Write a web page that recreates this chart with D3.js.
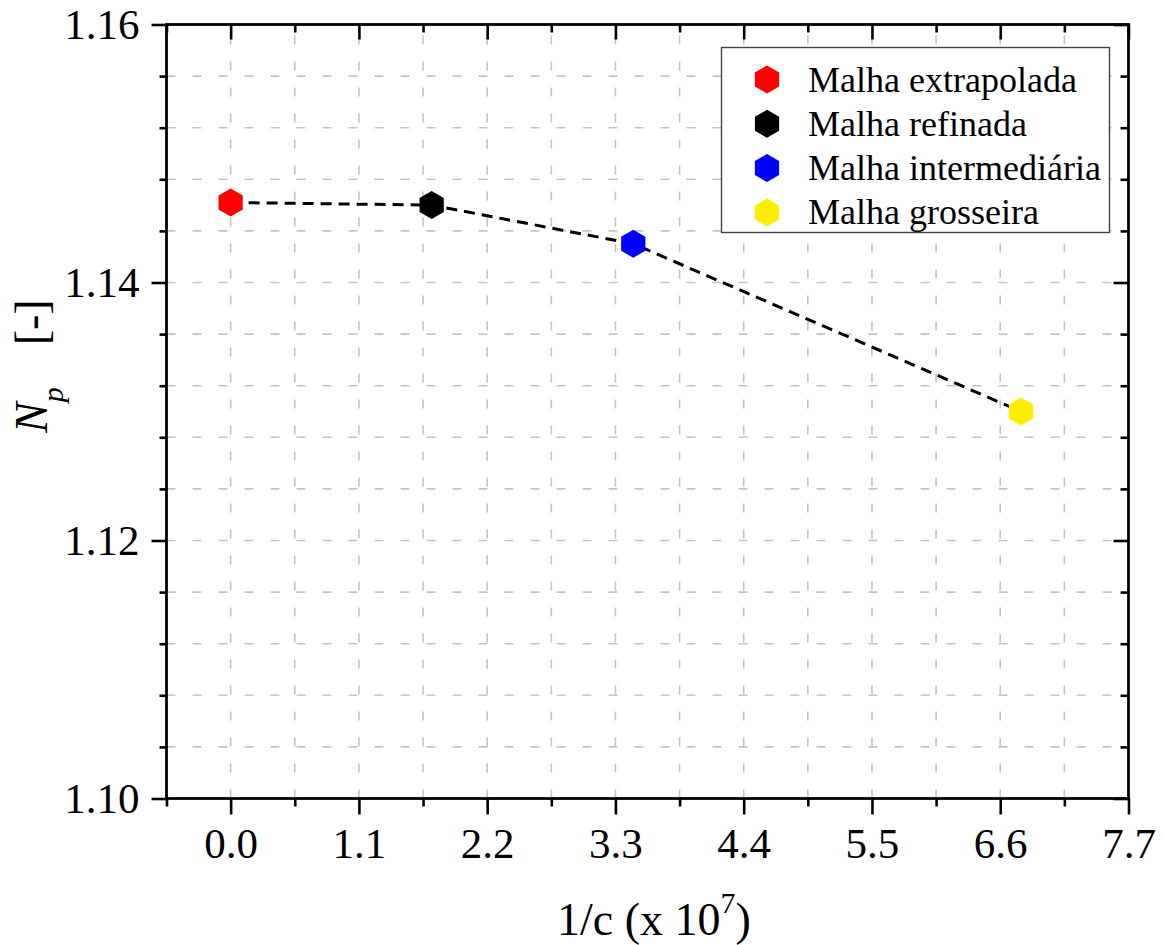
<!DOCTYPE html>
<html>
<head>
<meta charset="utf-8">
<script src="https://cdn.jsdelivr.net/npm/d3@7"></script>
<style>
  html, body { margin: 0; padding: 0; background: #fff; }
  svg { display: block; font-family: "Liberation Serif", "Times New Roman", serif; }
</style>
</head>
<body>
<svg id="chart" width="1164" height="945"></svg>
<script>
// Mesh convergence data: 1/c (x 10^7) against N_p
const meshNames = ["Malha extrapolada", "Malha refinada", "Malha intermediária", "Malha grosseira"];
const invC = [0.0, 1.724, 3.453, 6.778];
const npValues = [1.1462, 1.1460, 1.1430, 1.1300];
const meshColors = ["#ff0000", "#000000", "#0000ff", "#ffee00"];

const xTickValues = [0.0, 1.1, 2.2, 3.3, 4.4, 5.5, 6.6, 7.7];
const xMinorValues = [-0.55, 0.55, 1.65, 2.75, 3.85, 4.95, 6.05, 7.15];
const yTickValues = [1.10, 1.12, 1.14, 1.16];
const yMinorValues = [1.104, 1.108, 1.112, 1.116, 1.124, 1.128, 1.132, 1.136,
                      1.144, 1.148, 1.152, 1.156];

const svg = d3.select("#chart");
const plotLeft = 166.5, plotRight = 1128.5, plotTop = 24.5, plotBottom = 798.5;

const x = d3.scaleLinear().domain([-0.55, 7.7]).range([plotLeft, plotRight]);
const y = d3.scaleLinear().domain([1.10, 1.16]).range([plotBottom, plotTop]);

// Hexagon symbol, pointy side up
const hexagon = {
  draw(context, size) {
    const r = Math.sqrt(size / (3 * Math.sqrt(3) / 2));
    for (let i = 0; i < 6; i++) {
      const a = -Math.PI / 2 + i * Math.PI / 3;
      const px = r * Math.cos(a), py = r * Math.sin(a);
      if (i === 0) context.moveTo(px, py); else context.lineTo(px, py);
    }
    context.closePath();
  }
};
const hexPath = d3.symbol().type(hexagon).size(3 * Math.sqrt(3) / 2 * 14 * 14)();

// Grid
const grid = svg.append("g").attr("stroke", "#c4c4c4").attr("stroke-width", 1.6)
  .attr("stroke-dasharray", "9,17").attr("fill", "none");
grid.selectAll("line.gx").data(xTickValues.concat(xMinorValues).filter(v => v > -0.5 && v < 7.6))
  .enter().append("line")
  .attr("x1", d => x(d)).attr("x2", d => x(d))
  .attr("y1", plotBottom).attr("y2", plotTop);
grid.selectAll("line.gy").data(yMinorValues.concat([1.12, 1.14]))
  .enter().append("line")
  .attr("y1", d => y(d)).attr("y2", d => y(d))
  .attr("x1", plotLeft).attr("x2", plotRight);

// Axes
const tickFont = "43px";
const bottomAxis = d3.axisBottom(x).tickValues(xTickValues).tickSize(16).tickPadding(13)
  .tickFormat(d3.format(".1f"));
const bottomMinor = d3.axisBottom(x).tickValues(xMinorValues).tickSize(8).tickFormat("");
const topAxis = d3.axisBottom(x).tickValues(xTickValues).tickSize(15).tickFormat("");
const topMinor = d3.axisBottom(x).tickValues(xMinorValues).tickSize(8).tickFormat("");
const leftAxis = d3.axisLeft(y).tickValues(yTickValues).tickSize(15).tickPadding(12)
  .tickFormat(d3.format(".2f"));
const leftMinor = d3.axisLeft(y).tickValues(yMinorValues).tickSize(7).tickFormat("");
const rightAxis = d3.axisLeft(y).tickValues(yTickValues).tickSize(15).tickFormat("");
const rightMinor = d3.axisLeft(y).tickValues(yMinorValues).tickSize(8).tickFormat("");

function styleAxis(g) {
  g.select(".domain").remove();
  g.selectAll(".tick line").attr("stroke", "#000").attr("stroke-width", 2.6);
  g.selectAll(".tick text").attr("fill", "#000").style("font-size", tickFont)
    .style("font-family", "'Liberation Serif', 'Times New Roman', serif");
}

svg.append("g").attr("transform", `translate(0,${plotBottom})`).call(bottomAxis).call(styleAxis);
svg.append("g").attr("transform", `translate(0,${plotBottom})`).call(bottomMinor).call(styleAxis);
svg.append("g").attr("transform", `translate(0,${plotTop})`).call(topAxis).call(styleAxis);
svg.append("g").attr("transform", `translate(0,${plotTop})`).call(topMinor).call(styleAxis);
svg.append("g").attr("transform", `translate(${plotLeft},0)`).call(leftAxis).call(styleAxis);
svg.append("g").attr("transform", `translate(${plotLeft},0)`).call(leftMinor).call(styleAxis);
svg.append("g").attr("transform", `translate(${plotRight},0)`).call(rightAxis).call(styleAxis);
svg.append("g").attr("transform", `translate(${plotRight},0)`).call(rightMinor).call(styleAxis);

// Frame
svg.append("rect").attr("x", plotLeft).attr("y", plotTop)
  .attr("width", plotRight - plotLeft).attr("height", plotBottom - plotTop)
  .attr("fill", "none").attr("stroke", "#000").attr("stroke-width", 2.8);

// Dashed connecting line
const pts = invC.map((v, i) => [v, npValues[i]]);
svg.append("path").datum(pts)
  .attr("d", d3.line().x(d => x(d[0])).y(d => y(d[1])))
  .attr("fill", "none").attr("stroke", "#000").attr("stroke-width", 3)
  .attr("stroke-dasharray", "11,7");

// Markers
svg.selectAll("path.pt").data(pts).enter().append("path")
  .attr("class", "pt")
  .attr("d", hexPath)
  .attr("transform", d => `translate(${x(d[0])},${y(d[1])})`)
  .attr("fill", (d, i) => meshColors[i]);

// Legend
const legend = svg.append("g");
legend.append("rect").attr("x", 721.5).attr("y", 47.5).attr("width", 388).attr("height", 185)
  .attr("fill", "#fff").attr("stroke", "#444").attr("stroke-width", 1.4);
const rows = legend.selectAll("g.row").data(meshNames).enter().append("g")
  .attr("transform", (d, i) => `translate(767,${79.5 + i * 44.3})`);
rows.append("path").attr("d", hexPath).attr("fill", (d, i) => meshColors[i]);
rows.append("text").attr("x", 41).attr("y", 12).text(d => d)
  .style("font-size", "36px").attr("fill", "#000");

// Axis titles
const xt = svg.append("text").attr("x", 557).attr("y", 935).attr("text-anchor", "start")
  .style("font-size", "46px").attr("fill", "#000");
xt.append("tspan").text("1/c (x 10");
xt.append("tspan").attr("dy", -22).style("font-size", "30px").text("7");
xt.append("tspan").attr("dy", 22).text(")");

const yt = svg.append("text").attr("transform", "translate(47,433) rotate(-90)")
  .attr("text-anchor", "start").style("font-size", "46px").attr("fill", "#000");
yt.append("tspan").style("font-style", "italic").text("N");
yt.append("tspan").style("font-style", "italic").style("font-size", "30px").attr("dy", 16).text("p");
yt.append("tspan").attr("dy", -16).attr("dx", 42).text("[-]");
</script>
</body>
</html>
